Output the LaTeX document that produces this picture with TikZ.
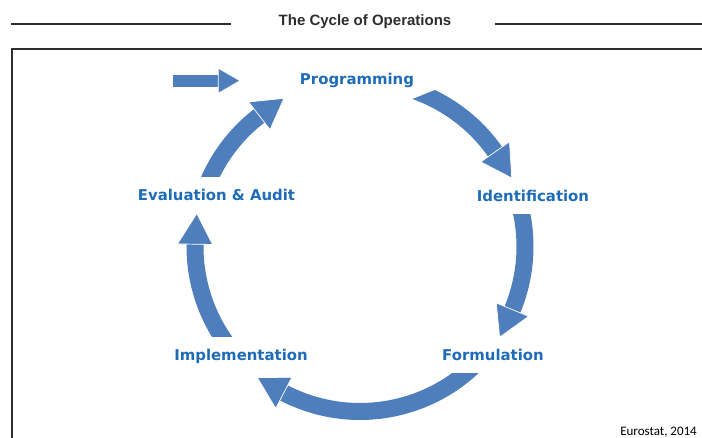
\documentclass[tikz,border=0pt]{standalone}
\usepackage{fontspec}
\setmainfont{DejaVu Sans}
\newfontfamily\titlefont{Liberation Sans}
\newfontfamily\notefont{Carlito}
\definecolor{arrowblue}{RGB}{79,126,189}
\definecolor{labelblue}{RGB}{30,108,183}
\definecolor{rulegray}{RGB}{45,45,45}
\tikzset{
  stage/.style={font=\fontsize{14.9}{17}\selectfont\bfseries, text=labelblue, anchor=base, inner sep=0pt},
  cyclearrow/.style={fill=arrowblue},
  arrowhead/.style={fill=arrowblue, draw=white, line width=0.7pt, line join=miter},
  rule/.style={draw=rulegray, line width=1.3pt},
}
\newcommand{\cyclearc}[3]{%
  \fill[cyclearrow] (#1:173.5pt) arc[start angle=#1, end angle=#2, radius=173.5pt]
     -- (#2:156.5pt) arc[start angle=#2, end angle=#1, radius=156.5pt] -- cycle;
  \filldraw[arrowhead] (#2:182.5pt) -- (#3:166.5pt) -- (#2:147.5pt) -- cycle;
}
\begin{document}
\begin{tikzpicture}[x=1pt,y=1pt]
\useasboundingbox (0,0) rectangle (702,438);
% title and rules
\node[font=\titlefont\fontsize{15}{17}\selectfont\bfseries, text=rulegray, anchor=base, inner sep=0pt] (title) at (365,412.3) {The Cycle of Operations};
\draw[rule] (11,414) -- (231,414);
\draw[rule] (495,414) -- (702,414);
% frame
\draw[draw=rulegray, line width=1.5pt] (12,0) -- (12,389) -- (702,389);
% cycle arrows
\begin{scope}
  \clip (15,180) -- (835,508) -- (835,-100) -- (15,-100) -- cycle;
  \begin{scope}[shift={(360,191.5)}]\cyclearc{80}{35}{24.3}\end{scope}
\end{scope}
\begin{scope}
  \clip (0,-10) rectangle (702,223);
  \begin{scope}[shift={(360,191.5)}]\cyclearc{20}{-22.5}{-33}\end{scope}
\end{scope}
\begin{scope}
  \clip (0,-10) rectangle (702,64);
  \begin{scope}[shift={(360,191.5)}]\cyclearc{-40}{-117.5}{-128.1}\end{scope}
\end{scope}
\begin{scope}
  \clip (0,101.3) rectangle (702,448);
  \begin{scope}[shift={(360,191.5)}]\cyclearc{225}{179.2}{168.6}\end{scope}
\end{scope}
\begin{scope}
  \clip (0,261) rectangle (702,448);
  \begin{scope}[shift={(360,191.5)}]\cyclearc{165}{127.6}{117.2}\end{scope}
\end{scope}
% entry arrow
\fill[cyclearrow] (173.3,350.7) rectangle (219,363);
\filldraw[arrowhead] (218.3,344.7) -- (240,357.3) -- (218.3,369.7) -- cycle;
% labels
\node[stage] (prog) at (357,353) {Programming};
\node[stage] (ident) at (533,236.5) {Identification};
\node[stage] (form) at (493,77.5) {Formulation};
\node[stage] (impl) at (241,77.5) {Implementation};
\node[stage] (eval) at (216.5,237) {Evaluation \& Audit};
\node[font=\notefont\fontsize{13}{15}\selectfont, anchor=base east, inner sep=0pt] (source) at (697,2) {Eurostat, 2014};
\end{tikzpicture}
\end{document}
